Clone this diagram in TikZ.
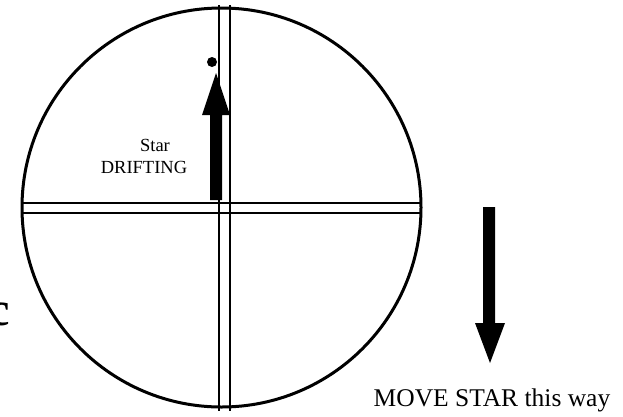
\documentclass[tikz,border=0pt]{standalone}
\usepackage{fontspec}
\setmainfont{Liberation Serif}
\usepackage{tikz}

\begin{document}
\begin{tikzpicture}[x=1pt,y=-1pt,
    ring/.style={line width=3pt},
    hair/.style={line width=2pt},
    label/.style={inner sep=0pt,font=\fontsize{18.5}{22}\selectfont}]
        \useasboundingbox (0,0) rectangle (623,416);
        % eyepiece field
        \draw[ring] (221.5,207.5) circle[radius=199.5];
        \draw[hair] (219,5) -- (219,411);
        \draw[hair] (230,5) -- (230,411);
        \draw[hair] (23,203) -- (421,203);
        \draw[hair] (23,213) -- (421,213);
        % star and drift
        \fill (212,62) circle[radius=5];
        \fill (210,200) -- (210,115) -- (202,115) -- (216,73) -- (230,115) -- (222,115) -- (222,200) -- cycle;
        \node[label] (star) at (155,145) {Star};
        \node[label] (drift) at (144,167) {DRIFTING};
        % correction
        \fill (483,207) -- (483,323) -- (475,323) -- (490,363) -- (505,323) -- (495,323) -- (495,207) -- cycle;
        \node[label,font=\fontsize{25.5}{28}\selectfont] (move) at (492,400) {MOVE STAR this way};
        \node[font=\fontsize{48}{50}\selectfont\bfseries,inner sep=0pt] (cut) at (-1,314) {c};
      \end{tikzpicture}
\end{document}
